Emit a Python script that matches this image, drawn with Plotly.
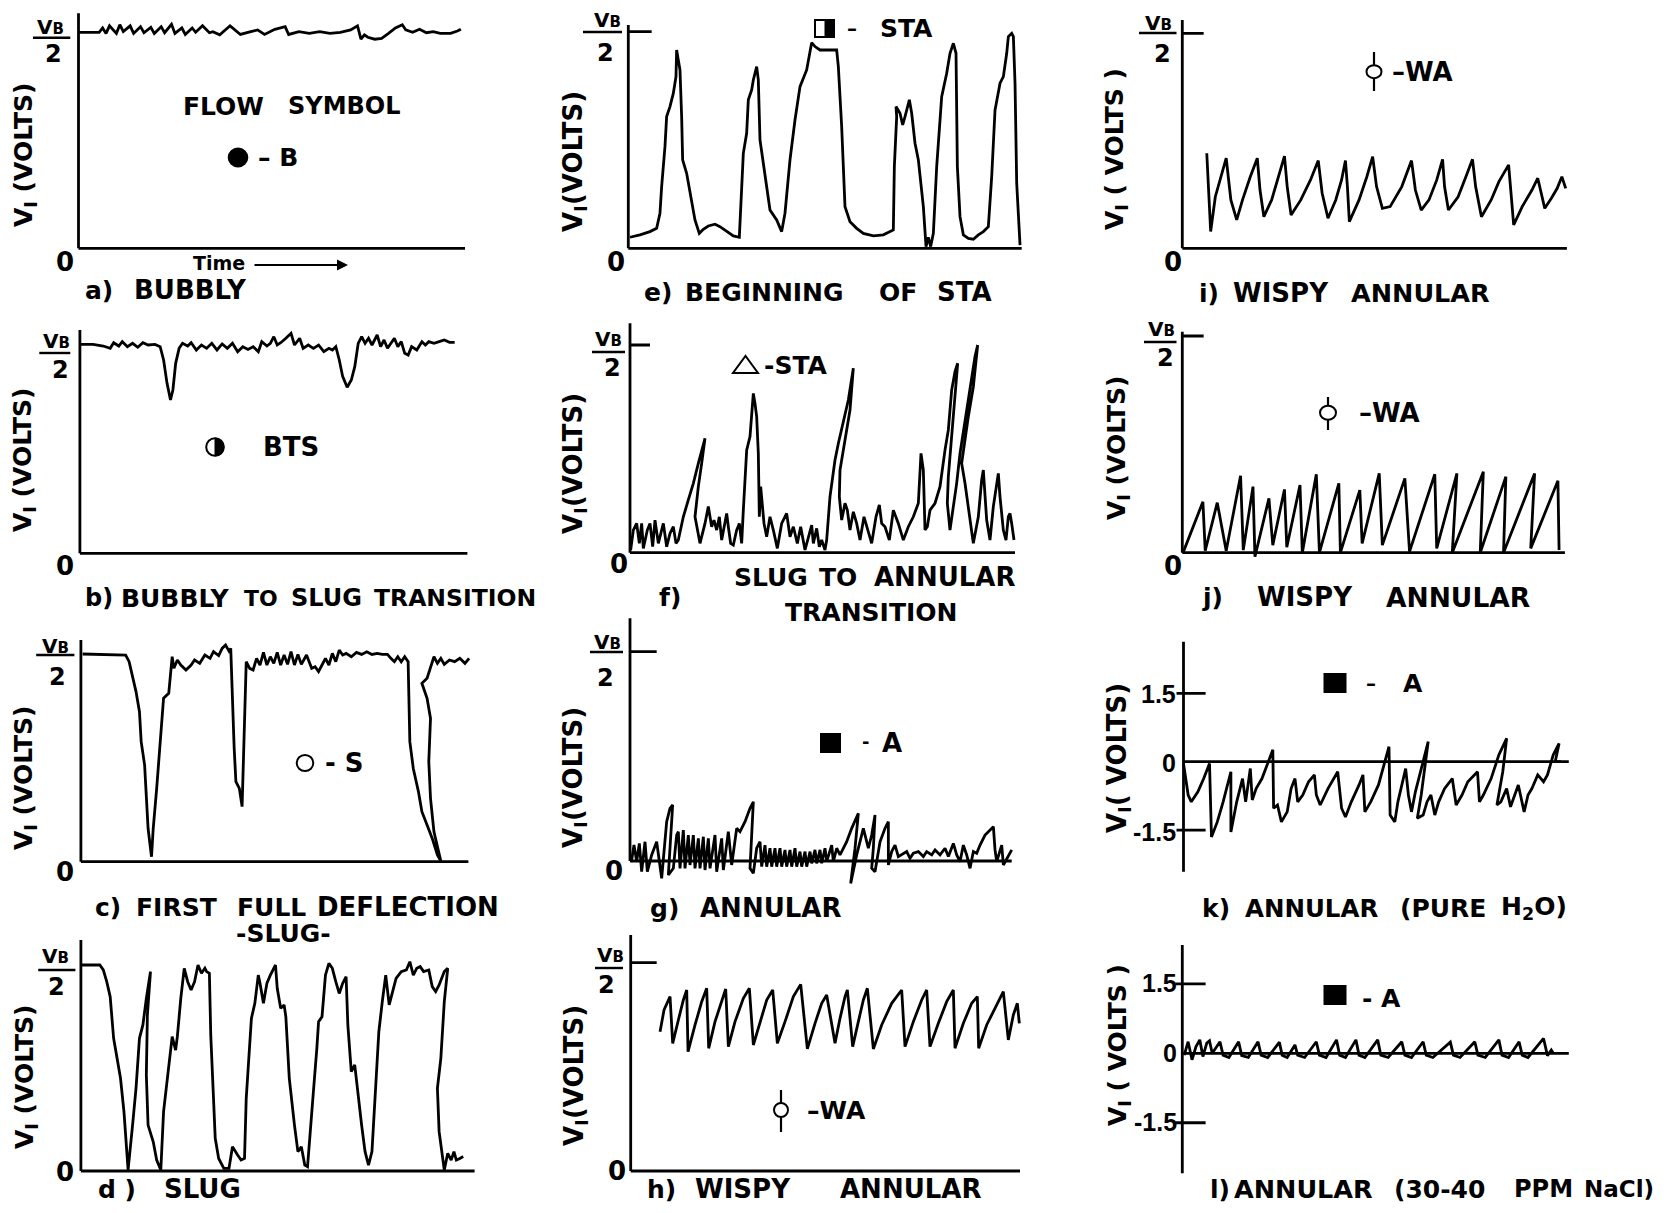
import plotly.graph_objects as go

# ---------------- DATA ----------------
# Panels a-j: voltage as a fraction of VB/2 ; panels k, l: volts ; time in arbitrary units
VB_HALF = 1.0
KL_TICKS = [1.5, 0, -1.5]
KL_TICK_LABELS = ["1.5", "0", "-1.5"]

time_a = [0, 6, 7, 8, 9, 11, 12, 13, 15, 16,
          18, 19, 21, 22, 24, 25, 27, 28, 30, 31,
          33, 34, 36, 38, 39, 41, 44, 47, 50, 52,
          54, 57, 60, 61, 64, 67, 70, 73, 76, 79,
          81, 82, 83, 84, 86, 88, 90, 92, 94, 95,
          97, 99, 101, 103, 105, 108, 110, 111]
volt_a = [1.0, 1.0, 1.02, 0.995, 1.03, 0.995, 1.035, 1.003, 1.03, 0.995,
          1.026, 0.998, 1.023, 0.995, 1.026, 0.998, 1.037, 0.995, 1.02, 0.99,
          1.02, 1.0, 1.03, 0.998, 1.003, 0.988, 1.03, 0.99, 1.003, 1.011,
          0.99, 1.014, 1.026, 0.99, 1.003, 0.995, 1.003, 0.995, 1.0, 1.011,
          1.03, 0.968, 0.988, 0.977, 0.968, 0.972, 0.995, 1.02, 1.035, 1.011,
          1.0, 1.014, 0.998, 1.003, 0.995, 0.995, 1.006, 1.014]

time_b = [0, 3.8, 6.8, 8.8, 9.8, 11.3, 12.3, 13.8, 15.3, 16.8,
          18.3, 19.8, 21.8, 23.3, 24.3, 25.3, 26.3, 27, 27.8, 28.8,
          29.8, 31.3, 32.3, 33.8, 35.3, 36.8, 38.3, 39.8, 41.3, 42.8,
          44.3, 45.8, 47.3, 48.8, 50.3, 51.8, 52.8, 54.3, 55.3, 56.3,
          57.3, 58.3, 59.8, 61.3, 62.3, 63.8, 64.8, 66.3, 67.8, 69.3,
          70.8, 72.3, 73.3, 74.3, 75.3, 76.3, 77.6, 78.8, 79.8, 80.8,
          81.8, 82.8, 83.8, 84.8, 86.3, 87.3, 88.3, 89.3, 90.3, 91.3,
          92.3, 93.3, 94.3, 95.3, 96.3, 97.8, 99.3, 100.3, 101.3, 102.8,
          104.3, 105.8, 107.3, 108.8]
volt_b = [1.003, 1.003, 0.995, 0.984, 1.011, 0.995, 1.016, 0.992, 1.008, 0.989,
          1.011, 1.0, 1.003, 0.992, 0.928, 0.816, 0.736, 0.784, 0.912, 0.984,
          1.008, 0.995, 1.011, 0.976, 1.0, 0.984, 1.008, 0.976, 1.005, 0.984,
          1.008, 0.968, 0.992, 0.979, 0.992, 0.968, 1.016, 0.995, 1.008, 1.04,
          1.0, 1.011, 1.032, 1.056, 1.0, 1.032, 0.984, 1.0, 0.984, 1.0,
          0.968, 0.984, 0.976, 0.992, 0.928, 0.848, 0.797, 0.832, 0.896, 1.008,
          1.04, 1.008, 1.032, 1.0, 1.048, 0.992, 1.024, 0.984, 1.008, 1.032,
          0.992, 1.016, 0.96, 0.952, 0.992, 0.976, 1.016, 1.0, 1.016, 1.008,
          1.016, 1.024, 1.013, 1.013]

time_c = [0.5, 11.5, 13, 14, 15, 16, 17, 17.5, 18.5, 19.5,
          20.5, 21, 22, 23, 24, 25.5, 26, 26.5, 27, 28,
          29, 30.5, 32, 33, 34.5, 36, 37.5, 38.5, 40, 41,
          42, 43, 43.5, 44, 44.5, 45, 46, 46.8, 47.3, 48,
          49, 50, 51, 52, 53, 54, 55, 56, 57, 58,
          59, 60, 61, 62, 63, 64, 65.5, 67, 68, 69,
          70, 71, 72, 73, 74, 75, 76, 77, 78.5, 80,
          81.5, 83, 84.5, 86, 87.5, 89, 90, 91, 92, 93,
          94, 95, 95.5, 96.5, 98, 99, 100.5, 102, 103.5, 104.5,
          102.5, 101.5, 101, 101.5, 100.5, 99.5, 99, 100.5, 101.5, 102.5,
          103.5, 104.5, 105.5, 107, 108.5, 110, 111.5, 112.7]
volt_c = [1.0, 0.998, 0.995, 0.963, 0.891, 0.819, 0.722, 0.578, 0.465, 0.161,
          0.024, 0.161, 0.353, 0.578, 0.787, 0.811, 0.899, 0.987, 0.931, 0.971,
          0.947, 0.923, 0.947, 0.971, 0.955, 0.995, 0.979, 1.011, 0.992, 1.027,
          1.043, 1.014, 1.027, 0.738, 0.546, 0.385, 0.353, 0.265, 0.514, 0.963,
          0.931, 0.923, 0.979, 0.947, 1.008, 0.947, 0.987, 0.955, 1.008, 0.947,
          0.995, 0.950, 1.011, 0.947, 0.998, 0.950, 0.995, 0.931, 0.939, 0.915,
          0.947, 0.979, 0.947, 1.003, 0.963, 1.019, 0.995, 1.003, 0.987, 1.008,
          0.998, 1.011, 0.998, 1.003, 0.998, 0.998, 0.979, 0.963, 0.987, 0.963,
          0.987, 0.963, 0.578, 0.449, 0.337, 0.241, 0.177, 0.112, 0.032, 0.003,
          0.144, 0.305, 0.482, 0.690, 0.787, 0.835, 0.859, 0.883, 0.931, 0.987,
          0.955, 0.979, 0.950, 0.971, 0.963, 0.979, 0.955, 0.979]

time_d = [0.3, 5.5, 6.5, 7.5, 8.5, 9.5, 10.5, 11.5, 12.5, 13.7,
          15, 16, 17, 18, 19, 20.2, 19.3, 19, 19.5, 21,
          22, 23.2, 24, 25, 25.7, 26.5, 27.5, 28, 29, 30,
          31, 32, 33, 34, 35, 36, 36.5, 37.3, 37.7, 38.3,
          39, 40, 41.5, 43, 44, 45.5, 46.5, 47.5, 48, 48.5,
          49.5, 50.5, 51.5, 52, 53, 54, 55, 56.5, 57, 58,
          59, 59.5, 60.5, 62, 63, 64, 65, 65.8, 66.5, 67.5,
          68.5, 69, 70, 71, 72, 73, 74, 75, 76, 77,
          77.5, 78.5, 79.5, 80.5, 81.5, 82.5, 83.5, 84.5, 85.5, 86.5,
          87.5, 88.5, 89.5, 90.5, 91.5, 93, 94.5, 95.5, 96.5, 97.5,
          98.5, 99.5, 101, 102, 103, 104, 105.5, 106.5, 105.5, 104.5,
          103.5, 104, 105.5, 106.5, 107.5, 108.3, 109, 110, 111]
volt_d = [1.0, 1.0, 0.976, 0.919, 0.846, 0.644, 0.547, 0.450, 0.288, 0.005,
          0.223, 0.401, 0.644, 0.709, 0.838, 0.968, 0.757, 0.466, 0.223, 0.142,
          0.053, 0.005, 0.288, 0.434, 0.547, 0.652, 0.587, 0.652, 0.838, 0.984,
          0.919, 0.879, 0.919, 1.0, 0.960, 0.984, 0.968, 0.960, 0.660, 0.385,
          0.159, 0.061, 0.013, 0.013, 0.118, 0.078, 0.053, 0.061, 0.353, 0.482,
          0.741, 0.814, 0.951, 0.911, 0.814, 0.911, 0.951, 1.0, 0.887, 0.790,
          0.806, 0.749, 0.450, 0.223, 0.094, 0.118, 0.029, 0.021, 0.191, 0.385,
          0.595, 0.725, 0.749, 0.951, 1.008, 0.984, 0.919, 0.862, 0.911, 0.943,
          0.709, 0.482, 0.515, 0.353, 0.223, 0.094, 0.029, 0.094, 0.417, 0.676,
          0.822, 0.951, 0.806, 0.871, 0.935, 0.968, 0.976, 1.016, 0.951, 0.984,
          0.992, 0.968, 0.976, 0.895, 0.871, 0.903, 0.968, 0.984, 0.822, 0.547,
          0.401, 0.191, 0.005, 0.086, 0.053, 0.094, 0.053, 0.061, 0.070]

time_e = [0.5, 3.5, 6.5, 8.5, 9.5, 10, 11, 11.5, 12.5, 13.5,
          14.3, 14.5, 15, 15.5, 16, 16.3, 17.5, 18.5, 20, 21.3,
          22.5, 24, 26, 27.5, 29.5, 31.5, 33.3, 34, 34.5, 35.5,
          36, 37, 37.5, 38.5, 39, 39.5, 41, 42.5, 44.5, 46,
          47, 48.5, 50, 51.5, 53.5, 55, 56, 57.5, 59.5, 62.5,
          63, 64, 65, 66.5, 68.5, 70.5, 73.5, 76.5, 79.5, 79.8,
          80.5, 80.3, 81.5, 82.3, 83, 84.3, 85, 86, 87, 88.5,
          89.3, 90, 90.7, 91.5, 92.5, 94, 95.5, 96.5, 97.5, 98.3,
          98.7, 99.5, 100.5, 102, 103.5, 105, 106.5, 108, 109, 110,
          111.5, 112.5, 113.5, 114, 115, 115.5, 116, 116.5, 117.5]
volt_e = [0.051, 0.062, 0.077, 0.092, 0.162, 0.285, 0.469, 0.608, 0.654, 0.715,
          0.792, 0.915, 0.869, 0.823, 0.608, 0.408, 0.346, 0.254, 0.131, 0.069,
          0.088, 0.103, 0.111, 0.1, 0.077, 0.057, 0.051, 0.254, 0.438, 0.531,
          0.685, 0.731, 0.777, 0.838, 0.777, 0.5, 0.346, 0.177, 0.131, 0.077,
          0.162, 0.408, 0.592, 0.746, 0.823, 0.949, 0.931, 0.915, 0.915, 0.915,
          0.838, 0.562, 0.192, 0.123, 0.092, 0.069, 0.057, 0.062, 0.085, 0.377,
          0.608, 0.654, 0.623, 0.569, 0.608, 0.685, 0.623, 0.485, 0.408, 0.192,
          0.008, 0.051, 0.008, 0.069, 0.377, 0.7, 0.808, 0.9, 0.946, 0.9,
          0.377, 0.146, 0.062, 0.046, 0.042, 0.062, 0.077, 0.1, 0.331, 0.638,
          0.762, 0.792, 0.9, 0.977, 0.992, 0.977, 0.762, 0.3, 0.015]

time_f = [0.2, 1, 2, 2.8, 3.5, 4, 5.2, 6, 6.8, 7.5,
          8.5, 10, 11, 12, 13, 13.8, 14.5, 16, 17.5, 19,
          20.5, 21.5, 22.5, 21.5, 20.5, 19.5, 21, 22.5, 23.5, 24.5,
          25.2, 26, 26.8, 27.5, 28.5, 29, 29.5, 30.2, 31, 32,
          32.8, 33.5, 34, 35, 36, 37, 37.5, 38, 38.5, 38.8,
          39.2, 39.8, 40.2, 41, 42, 43, 44.2, 45.5, 47, 48,
          49, 50.2, 51.2, 52.5, 53.8, 54.5, 55, 56, 56.8, 57.5,
          58.5, 59, 60, 61.5, 62.5, 64, 65.5, 67, 66, 65,
          64, 63, 62.8, 63.5, 64.5, 65.2, 66, 67, 68, 69,
          70.2, 71.5, 72.5, 73.8, 74.8, 75.5, 76.5, 77.8, 79, 80.5,
          82, 83.5, 85, 86.5, 87.3, 88, 88.5, 89.2, 90, 91.5,
          93, 94.5, 95.5, 96.5, 97.5, 98.3, 97.5, 96.5, 95.5, 95.2,
          96, 97, 98, 99, 100.5, 102, 103.5, 104.3, 103, 101.5,
          100, 99.5, 100.5, 101.5, 103, 104.5, 105.5, 106, 106.5, 107,
          108, 109, 110.5, 111, 112, 112.8, 113.5, 114, 114.5, 115.2]
volt_f = [0.013, 0.109, 0.141, 0.045, 0.141, 0.021, 0.109, 0.141, 0.029, 0.157,
          0.045, 0.141, 0.029, 0.093, 0.125, 0.045, 0.061, 0.173, 0.254, 0.334,
          0.430, 0.494, 0.551, 0.430, 0.318, 0.173, 0.045, 0.141, 0.222, 0.125,
          0.157, 0.109, 0.173, 0.061, 0.141, 0.189, 0.125, 0.045, 0.037, 0.109,
          0.141, 0.045, 0.205, 0.494, 0.559, 0.767, 0.719, 0.655, 0.478, 0.173,
          0.318, 0.205, 0.141, 0.077, 0.173, 0.109, 0.021, 0.141, 0.189, 0.077,
          0.125, 0.045, 0.125, 0.013, 0.093, 0.133, 0.045, 0.117, 0.029, 0.061,
          0.013, 0.061, 0.270, 0.446, 0.526, 0.639, 0.735, 0.888, 0.687, 0.591,
          0.494, 0.398, 0.270, 0.157, 0.238, 0.205, 0.109, 0.197, 0.141, 0.061,
          0.173, 0.093, 0.045, 0.173, 0.230, 0.141, 0.125, 0.061, 0.205, 0.141,
          0.061, 0.125, 0.173, 0.238, 0.478, 0.398, 0.109, 0.125, 0.205, 0.238,
          0.318, 0.494, 0.591, 0.783, 0.872, 0.912, 0.751, 0.559, 0.366, 0.238,
          0.109, 0.222, 0.334, 0.478, 0.639, 0.799, 0.944, 1.0, 0.799, 0.655,
          0.494, 0.430, 0.334, 0.222, 0.045, 0.173, 0.350, 0.398, 0.270, 0.157,
          0.061, 0.222, 0.382, 0.270, 0.109, 0.061, 0.173, 0.189, 0.141, 0.061]

time_g = [0.5, 1.2, 2, 2.8, 3.5, 4.5, 5.2, 6.5, 8, 9.5,
          11, 12, 12.8, 12, 11.5, 13, 14, 14.5, 15, 16,
          16.5, 17.5, 18, 19, 19.5, 20.5, 21, 22, 22.5, 23.5,
          24, 25.5, 26, 27.5, 28, 29.5, 30.5, 32, 33, 34.5,
          36, 37, 36.5, 36, 37, 38, 39, 39.5, 40.5, 41,
          42, 42.5, 43.5, 44, 45, 45.5, 46.5, 47, 48, 48.5,
          49.5, 50, 51, 51.5, 52.5, 53, 54, 54.5, 55.5, 56,
          57, 57.5, 58.5, 59, 60.5, 61, 62, 63, 65, 66.5,
          68.5, 67.5, 66.2, 68, 70, 71.5, 72.5, 73.5, 73, 72.5,
          73.5, 75, 76.5, 77.5, 77.5, 77.5, 78.5, 79.5, 80.5, 82,
          83, 84, 85, 86.5, 88, 89, 90.5, 91.5, 93, 94.5,
          95.5, 97, 98, 99, 100, 101, 102, 103, 104, 105,
          106.5, 109, 109.5, 110, 111.5, 112, 113.5, 114.5]
volt_g = [0.005, 0.076, -0.003, 0.084, -0.051, 0.092, -0.051, 0.029, 0.092, -0.083,
          0.188, 0.252, 0.268, 0.076, -0.067, -0.035, 0.124, 0.140, -0.035, 0.148,
          -0.035, 0.124, -0.019, 0.124, -0.035, 0.108, -0.035, 0.116, -0.043, 0.108,
          -0.035, 0.124, -0.051, 0.108, -0.043, 0.140, -0.019, 0.156, 0.140, 0.188,
          0.252, 0.283, 0.140, -0.035, -0.059, 0.061, 0.092, -0.027, 0.076, -0.027,
          0.061, -0.027, 0.061, -0.027, 0.061, -0.027, 0.053, -0.027, 0.053, -0.027,
          0.061, -0.027, 0.045, -0.027, 0.045, -0.027, 0.045, -0.011, 0.053, -0.011,
          0.053, -0.011, 0.061, -0.003, 0.076, -0.003, 0.061, 0.029, 0.092, 0.156,
          0.228, 0.061, -0.107, 0.029, 0.156, 0.061, 0.124, 0.220, 0.061, -0.035,
          -0.051, 0.092, 0.156, 0.188, 0.061, -0.019, 0.045, 0.076, 0.021, 0.037,
          0.045, 0.013, 0.037, 0.045, 0.021, 0.045, 0.029, 0.053, 0.029, 0.061,
          0.021, 0.084, 0.029, -0.003, 0.076, 0.029, -0.035, 0.045, 0.037, 0.076,
          0.124, 0.164, 0.053, -0.003, 0.076, -0.019, 0.029, 0.053]

time_h = [8.8, 10, 11.8, 12.6, 14.3, 15.8, 16.8, 17.2, 19.3, 21.3,
          22.8, 23.4, 25.3, 27.3, 28.5, 29.3, 31.3, 33.8, 35.6, 36.8,
          38.8, 40.8, 42.6, 44, 46.3, 48.8, 51, 53, 55.3, 57.3,
          58.8, 61.3, 62.8, 64.3, 65, 66.6, 68.3, 69.8, 71, 72.8,
          75.3, 78.3, 81.3, 82.3, 84.8, 87.3, 88.8, 89.8, 92.3, 94.8,
          96.8, 97.3, 99.8, 102.3, 104, 104.4, 106.8, 109.8, 111.8, 113.3,
          114.8, 116, 116.6]
volt_h = [0.669, 0.773, 0.837, 0.613, 0.725, 0.821, 0.869, 0.573, 0.701, 0.813,
          0.877, 0.589, 0.717, 0.821, 0.874, 0.597, 0.717, 0.829, 0.877, 0.605,
          0.717, 0.821, 0.869, 0.613, 0.717, 0.837, 0.896, 0.586, 0.709, 0.805,
          0.845, 0.613, 0.733, 0.837, 0.869, 0.597, 0.717, 0.821, 0.877, 0.586,
          0.701, 0.805, 0.869, 0.597, 0.717, 0.821, 0.869, 0.597, 0.709, 0.813,
          0.869, 0.589, 0.709, 0.805, 0.837, 0.589, 0.701, 0.797, 0.861, 0.629,
          0.749, 0.805, 0.709]

time_i = [6.3, 7.3, 8.5, 10, 11.3, 12.5, 14, 15.5, 17.5, 19.3,
          20, 21, 23, 25, 26.3, 27, 28, 30.5, 33, 35,
          36, 37.5, 39.5, 41, 42, 42.5, 43, 45.5, 47.5, 49,
          50, 51.5, 53.5, 56.5, 59, 60, 61.5, 63.5, 65.5, 67,
          67.5, 68.5, 71, 73, 74.7, 75.5, 77, 79.5, 81.5, 84,
          84.5, 85.3, 87.5, 90, 91.5, 92.5, 93.3, 95, 96.5, 97.7,
          98.7]
volt_i = [0.442, 0.078, 0.240, 0.333, 0.419, 0.225, 0.132, 0.225, 0.333, 0.419,
          0.271, 0.147, 0.225, 0.349, 0.429, 0.287, 0.155, 0.225, 0.318, 0.408,
          0.256, 0.140, 0.225, 0.318, 0.408, 0.287, 0.124, 0.225, 0.333, 0.426,
          0.287, 0.186, 0.194, 0.287, 0.408, 0.271, 0.178, 0.225, 0.318, 0.414,
          0.287, 0.178, 0.240, 0.333, 0.414, 0.287, 0.147, 0.225, 0.310, 0.388,
          0.287, 0.109, 0.194, 0.271, 0.326, 0.240, 0.186, 0.233, 0.279, 0.333,
          0.279]

time_j = [0.3, 5.3, 5.9, 9, 11.3, 15, 15.7, 18.2, 18.7, 22.3,
          23.3, 26.3, 26.9, 30.3, 30.9, 34.5, 35.3, 40.3, 40.7, 45.7,
          46.3, 50.7, 51.5, 57.3, 58.5, 65, 65.5, 70.7, 69.5, 77.5,
          76.7, 83.3, 82.7, 90.7, 89.7, 96.7, 97]
volt_j = [0.005, 0.235, 0.009, 0.231, 0.009, 0.355, 0.012, 0.305, -0.018, 0.251,
          0.035, 0.292, 0.025, 0.312, 0.0, 0.362, 0.0, 0.32, 0.0, 0.289,
          0.043, 0.366, 0.035, 0.343, 0.005, 0.362, 0.02, 0.366, 0.0, 0.374,
          0.0, 0.351, 0.0, 0.366, 0.02, 0.332, 0.012]

time_k = [0, 1.2, 2, 3.7, 5.2, 6.7, 7.2, 8.7, 10.2, 12.2,
          12.2, 13.7, 15.2, 16, 17.2, 17.7, 18.7, 20.2, 23, 23.2,
          24.2, 25.2, 26.7, 27.7, 28.7, 29.4, 30.7, 32.2, 33.7, 34.2,
          35.2, 37.2, 39.7, 40.7, 41.7, 43.2, 45.2, 46.2, 46.7, 48.2,
          50.2, 52.9, 53.2, 54.4, 55.2, 56.2, 57.2, 57.9, 58.7, 59.7,
          61.2, 63, 61.2, 60.2, 61.7, 62.7, 63.7, 64.7, 65.7, 67.2,
          69.2, 70.2, 71.7, 73.2, 75.7, 76.2, 77.2, 79.2, 81.2, 83.2,
          82.2, 80.7, 81.7, 83.2, 84.2, 85.2, 86.2, 87.7, 88.7, 89.7,
          91.2, 92.7, 93.7, 95.2, 96.7, 95.7, 97.2]
volt_k = [-0.04, -0.73, -0.88, -0.66, -0.37, -0.04, -1.65, -1.32, -0.88, -0.22,
          -1.54, -0.88, -0.37, -0.88, -0.15, -0.84, -0.59, -0.37, 0.26, -1.02,
          -0.95, -1.32, -1.10, -0.59, -0.37, -0.88, -0.73, -0.44, -0.29, -0.73,
          -0.95, -0.59, -0.22, -1.02, -1.21, -0.88, -0.51, -0.29, -1.10, -0.88,
          -0.51, 0.33, -1.17, -1.32, -0.88, -0.51, -0.15, -0.73, -1.10, -0.66,
          -0.15, 0.44, -0.73, -1.24, -1.17, -0.88, -0.73, -1.17, -0.88, -0.59,
          -0.37, -0.95, -0.73, -0.44, -0.22, -0.88, -0.73, -0.37, 0.15, 0.51,
          -0.22, -0.95, -0.88, -0.59, -0.99, -0.73, -0.51, -1.10, -0.73, -0.59,
          -0.29, -0.44, -0.29, 0.15, 0.40, 0.0, 0.0]

time_l = [0.5, 1.5, 2.5, 3.5, 4.5, 5.3, 6.3, 7, 7.7, 9.7,
          10.5, 12, 14.5, 15.3, 17, 19.5, 20.3, 22, 25, 25.7,
          27, 29, 29.7, 31.5, 34.5, 35.3, 37, 39.7, 40.5, 42,
          44.7, 45.5, 47, 50.3, 51.1, 53, 56.5, 57.3, 59, 62,
          62.8, 64.5, 69, 69.8, 71.5, 75.3, 76.1, 78, 81.5, 82.3,
          84, 86.7, 87.5, 89, 93, 94, 95, 95.5]
volt_l = [-0.04, 0.25, -0.14, 0.14, 0.29, -0.07, 0.22, 0.27, 0.0, 0.25,
          -0.04, -0.09, 0.25, -0.05, -0.09, 0.25, -0.04, -0.09, 0.24, -0.04,
          -0.09, 0.18, -0.04, -0.09, 0.25, -0.04, -0.09, 0.29, -0.04, -0.09,
          0.29, -0.04, -0.09, 0.29, -0.04, -0.09, 0.25, -0.04, -0.09, 0.25,
          -0.04, -0.09, 0.24, -0.04, -0.09, 0.25, -0.04, -0.09, 0.29, -0.04,
          -0.09, 0.25, -0.04, -0.09, 0.32, -0.05, 0.07, 0.0]

# ---------------- GEOMETRY (pixels of the page) ----------------
W, H, OFF = 1653, 1197, 8
FONT = "DejaVu Sans"
TFONT = "Liberation Sans"
INK = "black"
LW = 2.8


def xp(X):
    return (X - OFF) / W


def yp(Y):
    return 1 - (Y - OFF) / H


panels = [
    ("a", time_a, volt_a, dict(Xl=78.5, Xr=465, tend=112.2, Yb=248.3, s=216, Ytop=13.3)),
    ("b", time_b, volt_b, dict(Xl=79.9, Xr=467.4, tend=112.5, Yb=553.3, s=208.3, Ytop=330)),
    ("c", time_c, volt_c, dict(Xl=80.9, Xr=468.4, tend=112.5, Yb=861.7, s=207.7, Ytop=640)),
    ("d", time_d, volt_d, dict(Xl=80.9, Xr=474.6, tend=114.3, Yb=1171, s=206, Ytop=940)),
    ("e", time_e, volt_e, dict(Xl=628.3, Xr=1021.7, tend=118, Yb=248.3, s=216.7, Ytop=25, tick=7)),
    ("f", time_f, volt_f, dict(Xl=630, Xr=1015, tend=115.5, Yb=552.7, s=207.7, Ytop=323.3, tick=6)),
    ("g", time_g, volt_g, dict(Xl=630, Xr=1011.7, tend=114.5, Yb=861, s=209.3, Ytop=618.3, tick=8)),
    ("h", time_h, volt_h, dict(Xl=630.7, Xr=1020, tend=116.8, Yb=1171, s=208.3, Ytop=935, tick=7.8)),
    ("i", time_i, volt_i, dict(Xl=1182.3, Xr=1566.9, tend=99, Yb=248.3, s=215, Ytop=20, tick=5.5)),
    ("j", time_j, volt_j, dict(Xl=1182.3, Xr=1564.9, tend=98.5, Yb=552.7, s=216.7, Ytop=331.7, tick=5.5)),
    ("k", time_k, volt_k, dict(Xl=1183.5, Xr=1568.8, tend=99.2, Yb=761.7, s=45.6, Ytop=641.7,
                               Ybot=871.7, tick=5.7, volts=True)),
    ("l", time_l, volt_l, dict(Xl=1182.3, Xr=1568.8, tend=99.5, Yb=1053.3, s=46.3, Ytop=945,
                               Ybot=1173.3, tick=6, volts=True)),
]

fig = go.Figure()
shapes, annos, lay = [], [], {}

for n, (key, tt, vv, g) in enumerate(panels, start=1):
    sx = (g["Xr"] - g["Xl"]) / g["tend"]
    left = max(g["Xl"] - 16, OFF)
    right = min(g["Xr"] + 16, OFF + W)
    top = max(g["Ytop"] - 16, OFF)
    bot = min(g.get("Ybot", g["Yb"]) + 32, OFF + H)
    sfx = "" if n == 1 else str(n)
    lay["xaxis" + sfx] = dict(domain=[xp(left), xp(right)],
                              range=[(left - g["Xl"]) / sx, (right - g["Xl"]) / sx],
                              visible=False, anchor="y" + sfx, fixedrange=True)
    lay["yaxis" + sfx] = dict(domain=[yp(bot), yp(top)],
                              range=[(g["Yb"] - bot) / g["s"], (g["Yb"] - top) / g["s"]],
                              visible=False, anchor="x" + sfx, fixedrange=True)
    xr, yr = "x" + sfx, "y" + sfx
    fig.add_trace(go.Scatter(x=tt, y=vv, mode="lines", line=dict(color=INK, width=LW),
                             xaxis=xr, yaxis=yr, hoverinfo="skip", showlegend=False))
    vtop = (g["Yb"] - g["Ytop"]) / g["s"]
    vbot = (g["Yb"] - g.get("Ybot", g["Yb"])) / g["s"]

    def ax_line(x0, y0, x1, y1, xr=xr, yr=yr):
        shapes.append(dict(type="line", xref=xr, yref=yr, x0=x0, y0=y0, x1=x1, y1=y1,
                           line=dict(color=INK, width=LW)))

    ax_line(0, vbot, 0, vtop)
    ax_line(0, 0, g["tend"], 0)
    if g.get("volts"):
        for tv in KL_TICKS:
            if tv != 0:
                ax_line(-1.8, tv, g["tick"], tv)
    elif "tick" in g:
        ax_line(0, VB_HALF, g["tick"], VB_HALF)


# ---------------- text helpers ----------------
def T(text, X, Y, size, anchor="left", font=FONT, bold=True, angle=0):
    annos.append(dict(text=f"<b>{text}</b>" if bold else text, x=xp(X), y=yp(Y),
                      xref="paper", yref="paper", xanchor=anchor, yanchor="middle",
                      showarrow=False, textangle=angle,
                      font=dict(family=font, size=size, color=INK)))


def pline(X0, Y0, X1, Y1, w=2.2):
    shapes.append(dict(type="line", xref="paper", yref="paper", x0=xp(X0), y0=yp(Y0),
                       x1=xp(X1), y1=yp(Y1), line=dict(color=INK, width=w)))


def pcircle(cx, cy, rx, ry=None, filled=False, w=2):
    ry = rx if ry is None else ry
    shapes.append(dict(type="circle", xref="paper", yref="paper", x0=xp(cx - rx), x1=xp(cx + rx),
                       y0=yp(cy + ry), y1=yp(cy - ry), line=dict(color=INK, width=w),
                       fillcolor=INK if filled else "white"))


def prect(x0, y0, x1, y1, filled=True, w=2):
    shapes.append(dict(type="rect", xref="paper", yref="paper", x0=xp(x0), x1=xp(x1),
                       y0=yp(y1), y1=yp(y0), line=dict(color=INK, width=w),
                       fillcolor=INK if filled else "white"))


def P(X, Y):
    return f"{xp(X):.5f},{yp(Y):.5f}"


def ppath(d, filled=True, w=2):
    shapes.append(dict(type="path", xref="paper", yref="paper", path=d,
                       line=dict(color=INK, width=w), fillcolor=INK if filled else "rgba(0,0,0,0)"))


def vb_label(vx, vy, bx0, bx1, by, tx, ty):
    T("V<span style='font-size:15px'>B</span>", vx, vy, 20, anchor="center")
    pline(bx0, by, bx1, by, 2.4)
    T("2", tx, ty, 24, anchor="center")


# VB/2 labels
vb_label(50, 27, 33, 70.3, 37.7, 53, 54)
vb_label(56, 341, 39.3, 70.3, 353, 60, 370)
vb_label(55, 646, 36.2, 74.4, 655, 57, 677)
vb_label(55, 956, 38.2, 75.4, 970, 56, 987)
vb_label(607, 20, 583, 622, 32, 605, 53)
vb_label(608, 339, 592, 625, 352, 612, 368)
vb_label(607, 642, 590, 623, 652, 605, 678)
vb_label(610, 955, 595, 623, 968, 606, 985)
vb_label(1158, 23, 1139, 1176.5, 33, 1162.5, 54)
vb_label(1161, 329, 1144, 1176.5, 342, 1165, 358)

# origin "0" labels
for (X, Y) in [(65, 262), (65, 566), (65, 872), (65, 1172), (616, 262), (619, 564),
               (614, 871), (617, 1171), (1173, 262), (1173, 566)]:
    T("0", X, Y, 26, anchor="center")

# k / l volt tick labels
for lab, Y in zip(KL_TICK_LABELS, [694, 763, 832]):
    T(lab, 1178, Y, 25, anchor="right", font=TFONT)
for lab, Y in zip(KL_TICK_LABELS, [983, 1053, 1122]):
    T(lab, 1179, Y, 25, anchor="right", font=TFONT)

# Y-axis titles
for (X, Y, s, txt) in [(25, 155, 25, "V<sub>I</sub> (VOLTS)"), (24, 460, 25, "V<sub>I</sub> (VOLTS)"),
                       (25, 778, 25, "V<sub>I</sub> (VOLTS)"), (26, 1077, 25, "V<sub>I</sub> (VOLTS)"),
                       (574, 162, 26, "V<sub>I</sub>(VOLTS)"), (574, 464, 26, "V<sub>I</sub>(VOLTS)"),
                       (574, 778, 26, "V<sub>I</sub>(VOLTS)"), (575, 1076, 26, "V<sub>I</sub>(VOLTS)"),
                       (1116, 149, 25, "V<sub>I</sub> ( VOLTS )"), (1118, 448, 25, "V<sub>I</sub> (VOLTS)"),
                       (1118, 758, 26, "V<sub>I</sub>( VOLTS)"), (1119, 1045, 25, "V<sub>I</sub> ( VOLTS )")]:
    T(txt, X, Y, s, anchor="center", angle=-90)

# captions
CB = 1189  # bottom caption row
T("a)", 83, 290, 25); T("BUBBLY", 132, 290, 26)
T("b)", 83, 598, 24); T("BUBBLY", 119, 598, 25); T("TO", 242, 598, 22)
T("SLUG", 289, 598, 24); T("TRANSITION", 372, 598, 23.5)
T("c)", 93, 907, 25); T("FIRST", 134, 907, 25); T("FULL", 235, 907, 25); T("DEFLECTION", 315, 907, 26)
T("-SLUG-", 283, 933, 25, anchor="center")
T("d )", 96, CB, 25); T("SLUG", 162, CB, 26)
T("e)", 642, 292, 25); T("BEGINNING", 683, 292, 25); T("OF", 877, 292, 25); T("STA", 935, 292, 26)
T("f)", 657, 597, 25); T("SLUG", 732, 577, 25); T("TO", 817, 577, 25); T("ANNULAR", 872, 577, 26)
T("TRANSITION", 783, 612, 25)
T("g)", 648, 908, 25); T("ANNULAR", 698, 908, 26)
T("h)", 645, CB, 25); T("WISPY", 693, CB, 26); T("ANNULAR", 838, CB, 26)
T("i)", 1197, 293, 25); T("WISPY", 1231, 293, 26); T("ANNULAR", 1349, 293, 25.5)
T("j)", 1200, 597, 25); T("WISPY", 1255, 597, 26); T("ANNULAR", 1384, 597, 26.5)
T("k)", 1200, 908, 25); T("ANNULAR", 1243, 908, 24.5); T("(PURE", 1398, 908, 25)
T("H<sub>2</sub>O)", 1499, 908, 25)
T("l)", 1208, CB, 25); T("ANNULAR", 1232, CB, 25.5); T("(30-40", 1392, CB, 25)
T("PPM", 1512, CB, 24); T("NaCl)", 1582, CB, 23)

# flow-regime symbols and labels
T("FLOW", 181, 106, 25); T("SYMBOL", 286, 106, 24)
pcircle(238, 157.5, 9.3, 9, filled=True)
T("– B", 256, 157, 25)

cx, cy, r = 215, 447, 8.8
pcircle(cx, cy, r, filled=False, w=2)
ppath(f"M {P(cx, cy - r)} C {P(cx + 0.552 * r, cy - r)} {P(cx + r, cy - 0.552 * r)} {P(cx + r, cy)} "
      f"C {P(cx + r, cy + 0.552 * r)} {P(cx + 0.552 * r, cy + r)} {P(cx, cy + r)} Z", filled=True, w=1)
T("BTS", 261, 447, 26)

pcircle(305, 763, 8.3, 8, filled=False, w=2)
T("- S", 323, 763, 26)

prect(815, 20, 834, 37, filled=False, w=2)
prect(825, 20, 834, 37, filled=True, w=1)
T("–", 852, 28, 20, anchor="center")
T("STA", 878, 28, 25)

ppath(f"M {P(733, 373)} L {P(758, 373)} L {P(745.5, 356)} Z", filled=False, w=2)
T("-STA", 762, 365, 25)

prect(821, 734, 840, 752, filled=True)
T("-", 865, 741, 18, anchor="center")
T("A", 880, 743, 26)

for (cx, cy, rx, ry, y0, y1, lx, ly, s) in [(781, 1110, 7, 7, 1090, 1132, 805, 1110, 25),
                                             (1374, 71.7, 7.5, 6.5, 52, 91, 1390, 72, 26),
                                             (1328, 412.7, 8, 7, 397, 430, 1357, 413, 26)]:
    pline(cx, y0, cx, y1, 2.2)
    pcircle(cx, cy, rx, ry, filled=False, w=2)
    T("–WA", lx, ly, s)

prect(1324.5, 674, 1345.5, 692, filled=True)
T("–", 1371, 683, 20, anchor="center")
T("A", 1401, 683, 25)

prect(1324.5, 986, 1345.5, 1004, filled=True)
T("- A", 1360, 998, 25)

# time arrow in panel a
T("Time", 191, 263, 19)
annos.append(dict(x=xp(348), y=yp(265), ax=-95, ay=0, xref="paper", yref="paper", text="",
                  showarrow=True, arrowhead=2, arrowsize=1.1, arrowwidth=2, arrowcolor=INK))

fig.update_layout(width=W, height=H, margin=dict(l=0, r=0, t=0, b=0), autosize=False,
                  paper_bgcolor="white", plot_bgcolor="rgba(0,0,0,0)",
                  shapes=shapes, annotations=annos, showlegend=False, **lay)

fig.write_html("out.html")
